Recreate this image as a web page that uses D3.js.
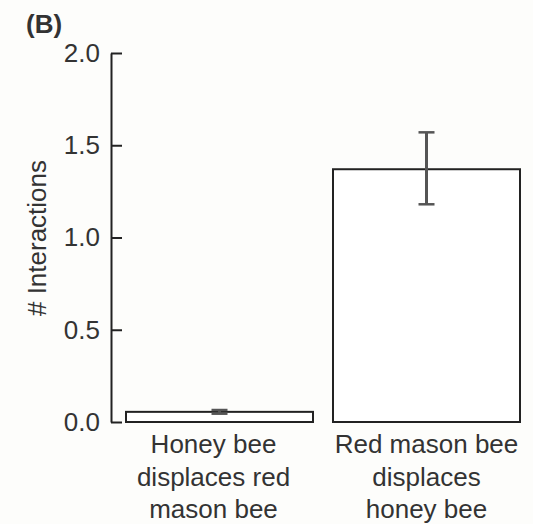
<!DOCTYPE html>
<html>
<head>
<meta charset="utf-8">
<script src="https://cdn.jsdelivr.net/npm/d3@7"></script>
<style>
  body { margin: 0; background: #fdfdfb; }
  text { font-family: "Liberation Sans", Arial, sans-serif; fill: #333; }
</style>
</head>
<body>
<div id="chart"></div>
<script>
// Data
var categories = [
    ["Honey bee", "displaces red", "mason bee"],
    ["Red mason bee", "displaces", "honey bee"]
];
var means = [0.055, 1.37];
var errLow = [0.045, 1.18];
var errHigh = [0.065, 1.57];
var yTicks = [0, 0.5, 1.0, 1.5, 2.0];

var svgWidth = 533;
var svgHeight = 524;

var svg = d3.select("#chart")
    .append("svg")
    .attr("width", svgWidth)
    .attr("height", svgHeight);

// Scales
var yScale = d3.scaleLinear()
    .domain([0, 2])
    .range([422, 53]);

var xScale = d3.scaleBand()
    .domain(d3.range(categories.length))
    .range([126, 520])
    .paddingInner(0.0966)
    .paddingOuter(0);

// Y axis (ticks point inward)
var yAxis = d3.axisLeft(yScale)
    .tickValues(yTicks)
    .tickFormat(d3.format(".1f"))
    .tickSizeInner(-11)
    .tickSizeOuter(0)
    .tickPadding(11);

var axisG = svg.append("g")
    .attr("transform", "translate(111,0)")
    .call(yAxis);
axisG.select(".domain").attr("stroke", "#222").attr("stroke-width", 2);
axisG.selectAll(".tick line").attr("stroke", "#222").attr("stroke-width", 2);
axisG.selectAll(".tick text")
    .style("font-size", "26px")
    .style("font-family", "Liberation Sans, Arial, sans-serif")
    .attr("fill", "#333");

// Bars
svg.selectAll(".bar")
    .data(means)
    .enter()
    .append("rect")
    .attr("class", "bar")
    .attr("x", (d, i) => xScale(i))
    .attr("width", xScale.bandwidth())
    .attr("y", d => yScale(d))
    .attr("height", d => yScale(0) - yScale(d))
    .attr("fill", "#fff")
    .attr("stroke", "#222")
    .attr("stroke-width", 2);

// Error bars
var errG = svg.selectAll(".err")
    .data(means)
    .enter()
    .append("g")
    .attr("class", "err");

errG.append("line")
    .attr("x1", (d, i) => xScale(i) + xScale.bandwidth() / 2)
    .attr("x2", (d, i) => xScale(i) + xScale.bandwidth() / 2)
    .attr("y1", (d, i) => yScale(errLow[i]))
    .attr("y2", (d, i) => yScale(errHigh[i]))
    .attr("stroke", "#555")
    .attr("stroke-width", 3);

errG.each(function(d, i) {
    var g = d3.select(this);
    var cx = xScale(i) + xScale.bandwidth() / 2;
    [errLow[i], errHigh[i]].forEach(function(v) {
        g.append("line")
            .attr("x1", cx - 8)
            .attr("x2", cx + 8)
            .attr("y1", yScale(v))
            .attr("y2", yScale(v))
            .attr("stroke", "#555")
            .attr("stroke-width", 2.5);
    });
});

// Category labels
var labelG = svg.selectAll(".cat")
    .data(categories)
    .enter()
    .append("text")
    .attr("class", "cat")
    .attr("text-anchor", "middle")
    .style("font-size", "26px");

labelG.selectAll("tspan")
    .data((d, i) => d.map(s => ({ s: s, i: i })))
    .enter()
    .append("tspan")
    .attr("x", d => xScale(d.i) + xScale.bandwidth() / 2 - (d.i === 0 ? 6 : 0))
    .attr("y", (d, j) => 453 + j * 32.5)
    .text(d => d.s);

// Axis title
svg.append("text")
    .attr("transform", "translate(46,238) rotate(-90)")
    .attr("text-anchor", "middle")
    .style("font-size", "26px")
    .text("# Interactions");

// Panel label
svg.append("text")
    .attr("x", 26)
    .attr("y", 33)
    .style("font-size", "26px")
    .style("font-weight", "bold")
    .text("(B)");
</script>
</body>
</html>
